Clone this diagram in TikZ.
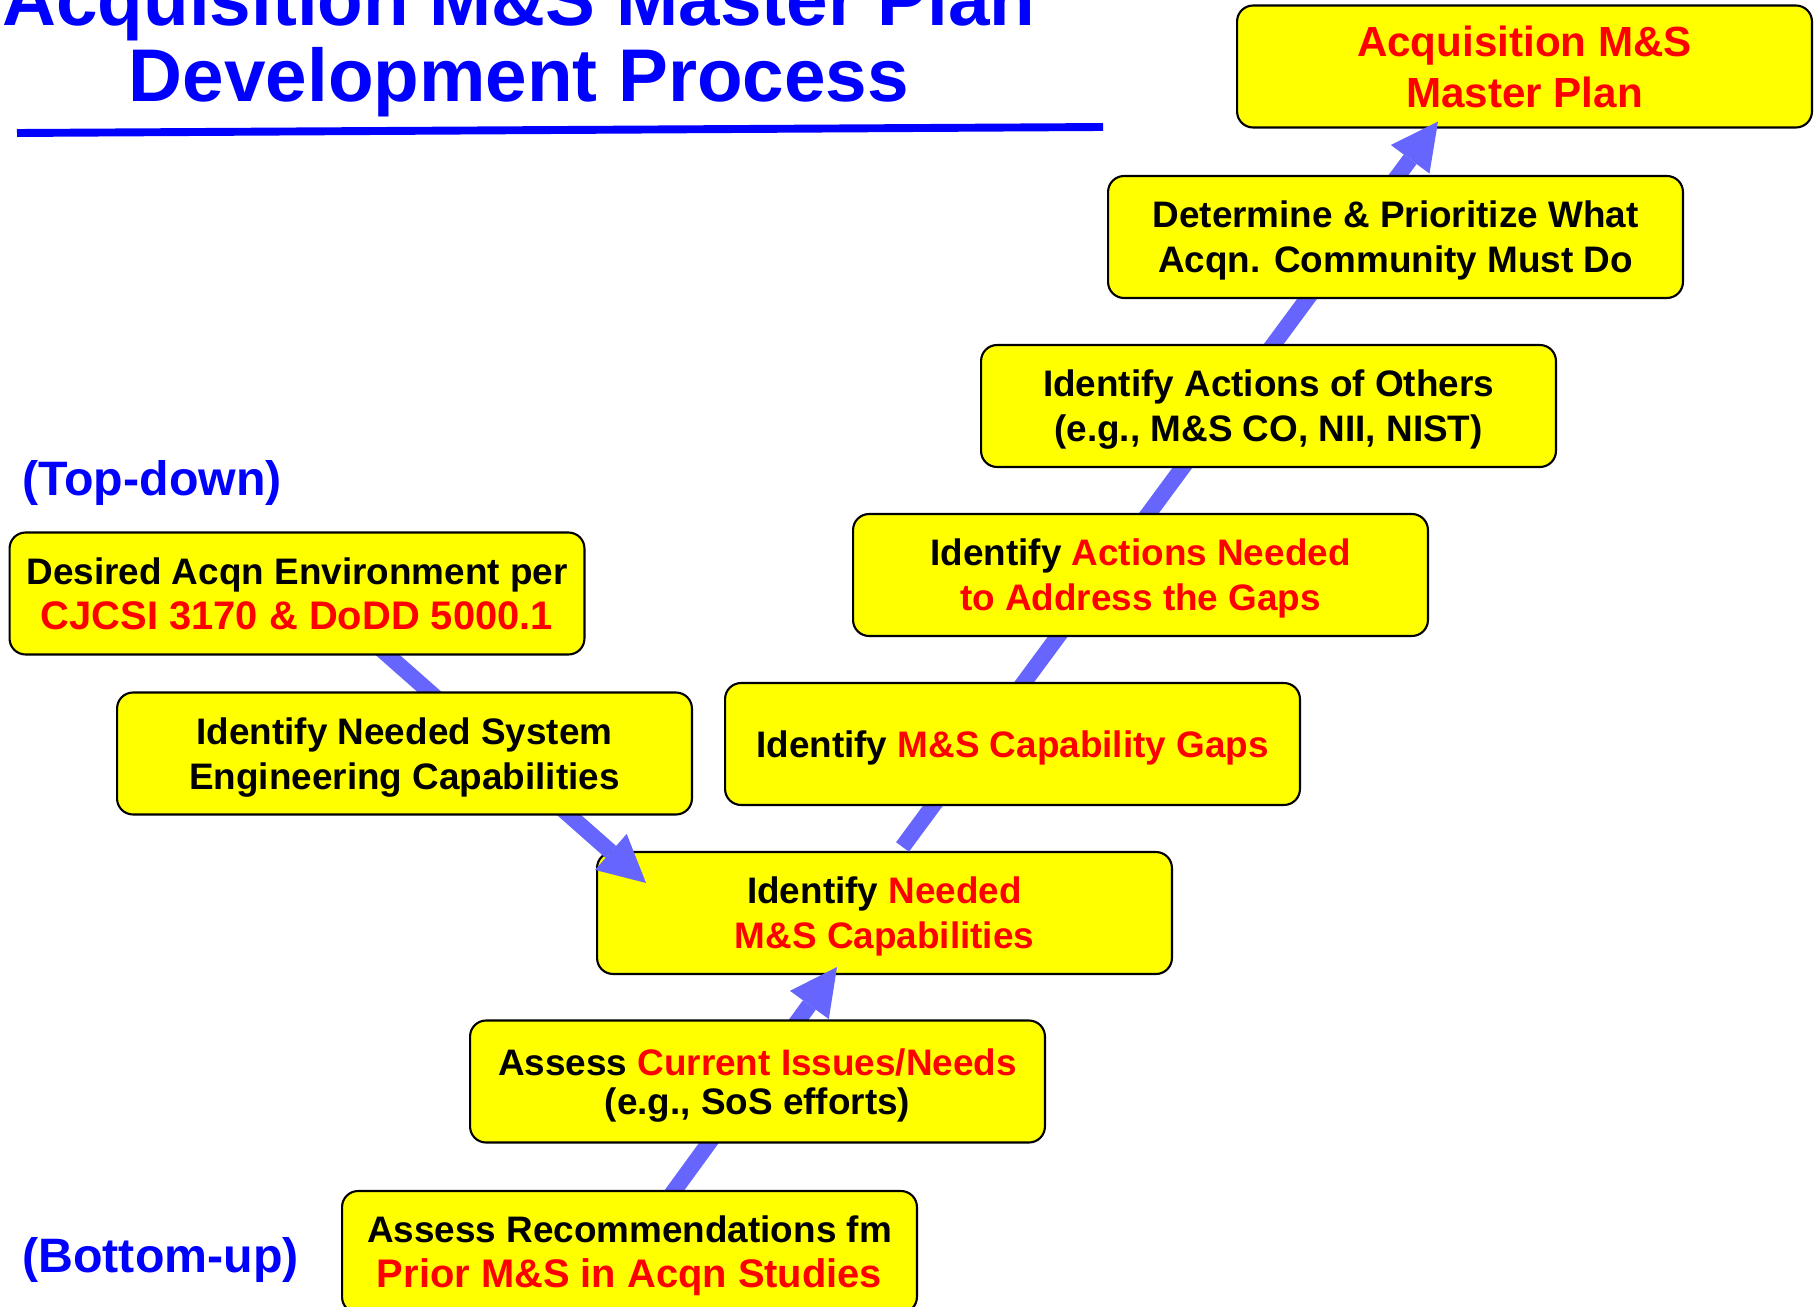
\documentclass[tikz,border=0pt]{standalone}
\usepackage{fontspec}
\setmainfont{Liberation Sans}
\usetikzlibrary{arrows.meta,calc}
\pgfdeclarelayer{back}
\pgfdeclarelayer{mid}
\pgfsetlayers{back,mid,main}
\definecolor{flowblue}{RGB}{102,102,255}
\definecolor{boxyellow}{RGB}{255,255,0}
\definecolor{hlred}{RGB}{255,0,0}
\definecolor{titleblue}{RGB}{0,0,255}
\tikzset{
    box/.style={draw=black,line width=1.2pt,fill=boxyellow,rounded corners=0.32cm,
        minimum width=11.5cm,minimum height=2.44cm,align=center,inner sep=0pt,
        text depth=0pt,font=\fontsize{21}{25.6}\selectfont\bfseries},
    flow/.style={flowblue,line width=9.1pt,
        -{Triangle[width=27.3pt,length=26.7pt,line width=0pt]}},
    side/.style={titleblue,anchor=base west,inner sep=0pt,font=\fontsize{27.5}{32}\selectfont\bfseries},
    heading/.style={titleblue,anchor=base,font=\fontsize{42.5}{50}\selectfont\bfseries},
}
\newcommand{\hl}[1]{\textcolor{hlred}{#1}}
\newcommand{\bigred}[1]{{\fontsize{22.7}{25.6}\selectfont\textcolor{hlred}{#1}}}

\begin{document}
\begin{tikzpicture}[x=0.02cm,y=-0.02cm]
    \useasboundingbox (0,0) rectangle (1814,1307);
    % title
    \node[heading] (title1) at (519,26) {Acquisition M\&S Master Plan};
    \node[heading] (title2) at (519,102) {Development Process};
    \draw[titleblue,line width=4.5pt] (17,133) -- (1103,127);
    \node[side] (topdown) at (22,495) {(Top-down)};
    \node[side] (bottomup) at (22,1272) {(Bottom-up)};
    % the steps
    \node[box] (prioritize) at (1395.5,237) {Determine \& Prioritize What\\Acqn. Community Must Do};
    \node[box] (others) at (1268.5,406) {Identify Actions of Others\\(e.g., M\&S CO, NII, NIST)};
    \node[box] (actions) at (1140.5,575) {Identify \hl{Actions Needed}\\\hl{to Address the Gaps}};
    \node[box] (gaps) at (1012.5,744) {Identify \hl{M\&S Capability Gaps}};
    \node[box,font=\fontsize{21}{22.2}\selectfont\bfseries] (issues) at (757.5,1081.5) {Assess \hl{Current Issues/Needs}\\(e.g., SoS efforts)};
    \node[box] (assessrec) at (629.5,1252) {Assess Recommendations fm\\\bigred{Prior M\&S in Acqn Studies}};
    \node[box] (desired) at (297,593.5) {Desired Acqn Environment per\\\bigred{CJCSI 3170 \& DoDD 5000.1}};
    \node[box] (syseng) at (404.5,753.5) {Identify Needed System\\Engineering Capabilities};
    % targets go below the arrows, the arrows below the rest
    \begin{pgfonlayer}{back}
        \node[box,font=\fontsize{24}{29}\selectfont\bfseries,text=hlred] (plan) at (1524.5,66.5) {Acquisition M\&S\\Master Plan};
        \node[box] (needms) at (884.5,913) {Identify \hl{Needed}\\\hl{M\&S Capabilities}};
    \end{pgfonlayer}
    \begin{pgfonlayer}{mid}
        \draw[flow] ($(desired.center)+(21,0)$) -- ($(needms.north west)+(50,32)$);
        \draw[flow] (assessrec.center) -- ($(needms.south west)+(241,-8)$);
        \draw[flow] ($(needms.north)+(18,-4)$) -- ($(plan.south west)+(202,-7)$);
    \end{pgfonlayer}
\end{tikzpicture}
\end{document}
